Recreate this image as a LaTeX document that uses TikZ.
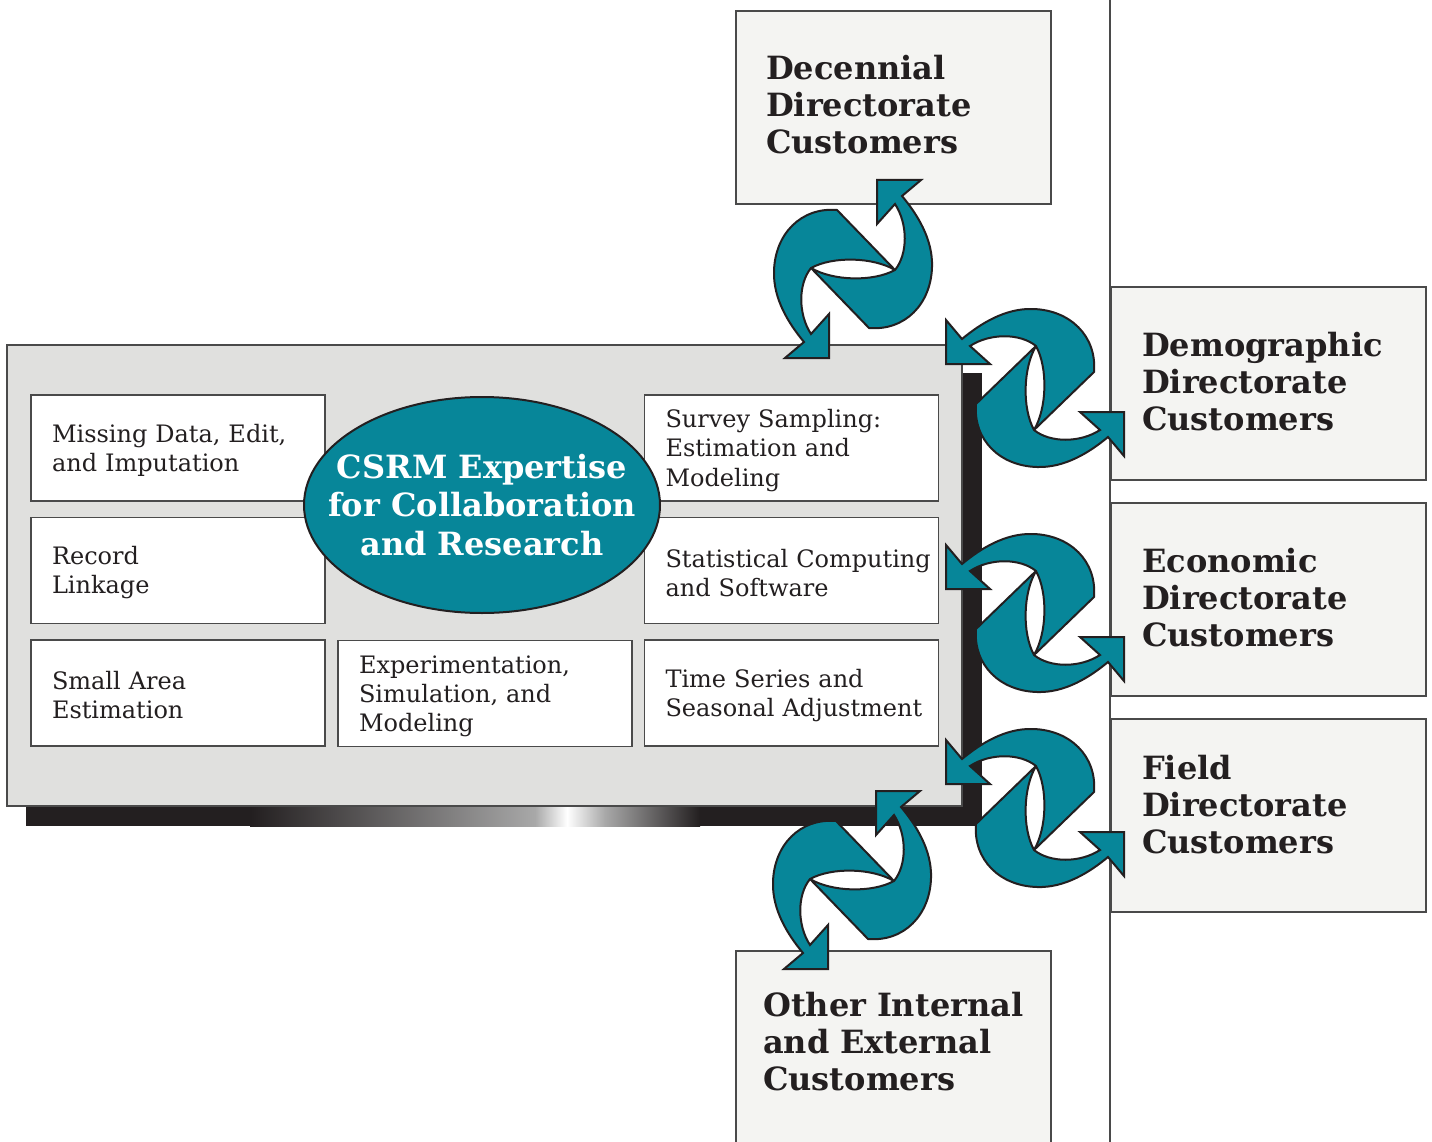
\documentclass[tikz,border=0pt]{standalone}
\usepackage{fontspec}
\setmainfont{DejaVu Serif}
\usetikzlibrary{shapes.geometric}

\definecolor{teal0}{HTML}{078699}
\definecolor{ink}{HTML}{231F20}
\definecolor{panel}{HTML}{E0E0DE}
\definecolor{pale}{HTML}{F4F4F2}
\definecolor{rim}{HTML}{4A4A4A}
\definecolor{glint}{HTML}{A8A8A8}

\tikzset{
  method/.style={draw=rim, line width=1.2pt, fill=white, minimum width=294pt, minimum height=106pt,
    text width=252pt, text height=23pt, inner xsep=0pt, align=left, text=ink,
    font=\fontsize{24}{29.3}\selectfont},
  client/.style={draw=rim, line width=1.6pt, fill=pale, minimum width=315pt, minimum height=193pt,
    anchor=north west, inner sep=0pt},
  heading/.style={anchor=base west, text width=300pt, align=left, inner sep=0pt, text=ink,
    font=\fontsize{32}{37}\selectfont\bfseries},
  exchange/.pic={
    \foreach \r in {0,180}
      \filldraw[fill=teal0, draw=ink, line width=2pt, miter limit=3, rotate=\r]
        (-49,73) .. controls (-64,55) and (-80,30) .. (-79,2)
        .. controls (-78,-35) and (-52,-62) .. (-16,-59) -- (42,1)
        .. controls (20,-12) and (-20,-13) .. (-42,-1)
        .. controls (-55,15) and (-55,45) .. (-42,65)
        -- (-24,45) -- (-24,89) -- (-68,89) -- cycle;
  }
}

\begin{document}
\begin{tikzpicture}[x=1pt, y=-1pt]
        \useasboundingbox (0,0) rectangle (1432,1142);

        \fill[ink] (962,373) rectangle (982,826);
        \fill[ink] (26,806) rectangle (982,826);
        \shade[left color=ink, right color=glint] (250,806) rectangle (535,826);
        \shade[left color=glint, right color=white] (535,806) rectangle (567,826);
        \shade[left color=white, right color=glint] (567,806) rectangle (605,826);
        \shade[left color=glint, right color=ink] (605,806) rectangle (700,826);
        \draw[draw=rim, fill=panel, line width=1.5pt] (7,345) rectangle (962,806);

        \node (b0) [method] at (178,448) {Missing Data, Edit,\\and Imputation};
        \node (b1) [method] at (178,570.5) {Record\\Linkage};
        \node (b2) [method] at (178,693) {Small Area\\Estimation};
        \node (b3) [method] at (485,693.5) {Experimentation,\\Simulation, and\\Modeling};
        \node (b4) [method] at (791.5,448) {Survey Sampling:\\Estimation and\\Modeling};
        \node (b5) [method] at (791.5,570.5) {\mbox{Statistical Computing}\\and Software};
        \node (b6) [method] at (791.5,693) {Time Series and\\\mbox{Seasonal Adjustment}};

        \node (e0) [ellipse, draw=ink, line width=2pt, fill=teal0, minimum width=356pt, minimum height=216pt,
          inner sep=0pt] at (482,505) {};
        \node (e1) [align=center, text=white, font=\fontsize{32}{38.5}\selectfont\bfseries]
          at (e0) {CSRM Expertise\\for Collaboration\\and Research};

        \draw[rim, line width=1.5pt] (1110,0) -- (1110,1142);

        \node (c0) [client] at (735,10) {};
        \node (c1) [client] at (1110,286) {};
        \node (c2) [client] at (1110,502) {};
        \node (c3) [client] at (1110,718) {};
        \node (c4) [client, minimum height=220pt] at (735,950) {};

        \node (h0) [heading] at (766,80) {Decennial\\Directorate\\Customers};
        \node (h1) [heading] at (1142,356) {Demographic\\Directorate\\Customers};
        \node (h2) [heading] at (1142,572) {Economic\\Directorate\\Customers};
        \node (h3) [heading] at (1142,779) {Field\\Directorate\\Customers};
        \node (h4) [heading] at (763,1016) {Other Internal\\and External\\Customers};

        \coordinate (a0) at (853,269);
        \coordinate (a1) at (1035,388);
        \coordinate (a2) at (1035,613);
        \coordinate (a3) at (1035,808);
        \coordinate (a4) at (852,880);
        \pic at (a0) {exchange};
        \pic[rotate=-90] at (a1) {exchange};
        \pic[rotate=-90] at (a2) {exchange};
        \pic[rotate=-90] at (a3) {exchange};
        \pic at (a4) {exchange};
\end{tikzpicture}
\end{document}
